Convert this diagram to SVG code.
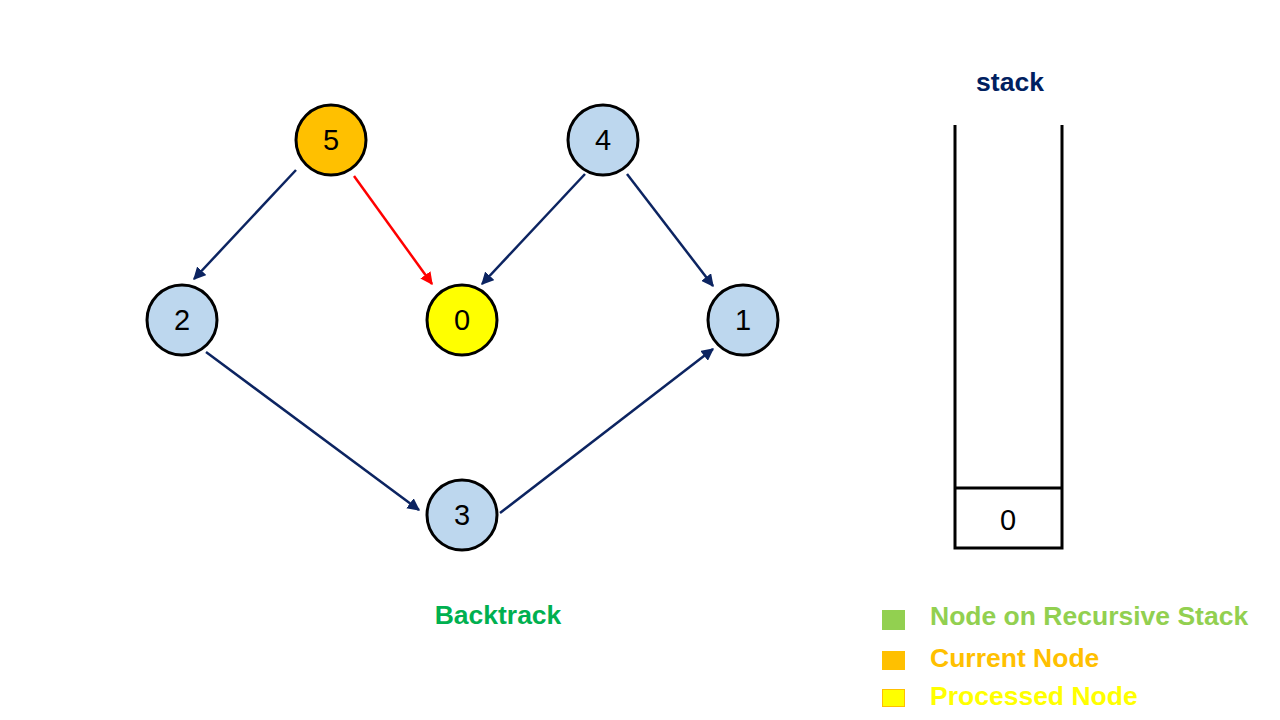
<svg xmlns="http://www.w3.org/2000/svg" width="1280" height="720" viewBox="0 0 1280 720">
<style>
.node circle{stroke:#000;stroke-width:3}
.node text{font-family:"Liberation Sans",Arial,sans-serif;font-size:29px;text-anchor:middle;fill:#000}
.edge{stroke:#0C2461;stroke-width:2.5;fill:none;marker-end:url(#ah)}
.red{stroke:#FF0000;marker-end:url(#ahr)}
.lbl{font-family:"Liberation Sans",Arial,sans-serif;font-weight:bold;font-size:26.5px}
</style>
<defs>
<marker id="ah" viewBox="0 0 10 10" refX="9" refY="5" markerWidth="5" markerHeight="5" orient="auto" markerUnits="strokeWidth"><path d="M0,0 L10,5 L0,10 z" fill="#0C2461"/></marker>
<marker id="ahr" viewBox="0 0 10 10" refX="9" refY="5" markerWidth="5" markerHeight="5" orient="auto" markerUnits="strokeWidth"><path d="M0,0 L10,5 L0,10 z" fill="#FF0000"/></marker>
</defs>
<rect width="1280" height="720" fill="#fff"/>
<g id="connectors">
<line class="edge" x1="296" y1="170" x2="194" y2="279"/>
<line class="edge red" x1="354" y1="176" x2="432" y2="284"/>
<line class="edge" x1="585" y1="174" x2="482" y2="284"/>
<line class="edge" x1="627" y1="174" x2="713" y2="286"/>
<line class="edge" x1="206" y1="352" x2="419" y2="510"/>
<line class="edge" x1="500" y1="513" x2="713" y2="349"/>
</g>
<g id="n5" class="node"><circle cx="331" cy="140" r="35" fill="#FFC000"/><text x="331" y="150">5</text></g>
<g id="n4" class="node"><circle cx="603" cy="140" r="35" fill="#BDD7EE"/><text x="603" y="150">4</text></g>
<g id="n2" class="node"><circle cx="182" cy="320" r="35" fill="#BDD7EE"/><text x="182" y="330">2</text></g>
<g id="n0" class="node"><circle cx="462" cy="320" r="35" fill="#FFFF00"/><text x="462" y="330">0</text></g>
<g id="n1" class="node"><circle cx="743" cy="320" r="35" fill="#BDD7EE"/><text x="743" y="330">1</text></g>
<g id="n3" class="node"><circle cx="462" cy="515" r="35" fill="#BDD7EE"/><text x="462" y="525">3</text></g>
<g id="stack">
<text x="1010" y="91" class="lbl" fill="#002060" text-anchor="middle">stack</text>
<path d="M955,125 V548 H1062 V125" fill="none" stroke="#000" stroke-width="3"/>
<line x1="955" y1="488" x2="1062" y2="488" stroke="#000" stroke-width="3"/>
<text x="1008" y="530" font-family="Liberation Sans,Arial,sans-serif" font-size="29" text-anchor="middle">0</text>
</g>
<text x="498" y="624" class="lbl" fill="#00B050" text-anchor="middle">Backtrack</text>
<g id="legend">
<rect x="882" y="610" width="23" height="20" fill="#92D050"/>
<text x="930" y="625" class="lbl" fill="#92D050">Node on Recursive Stack</text>
<rect x="882" y="651" width="23" height="19" fill="#FFC000"/>
<text x="930" y="667" class="lbl" fill="#FFC000">Current Node</text>
<rect x="882.5" y="689.5" width="22" height="17" fill="#FFFF00" stroke="#FFC000" stroke-width="1"/>
<text x="930" y="705" class="lbl" fill="#FFFF00">Processed Node</text>
</g>
</svg>
